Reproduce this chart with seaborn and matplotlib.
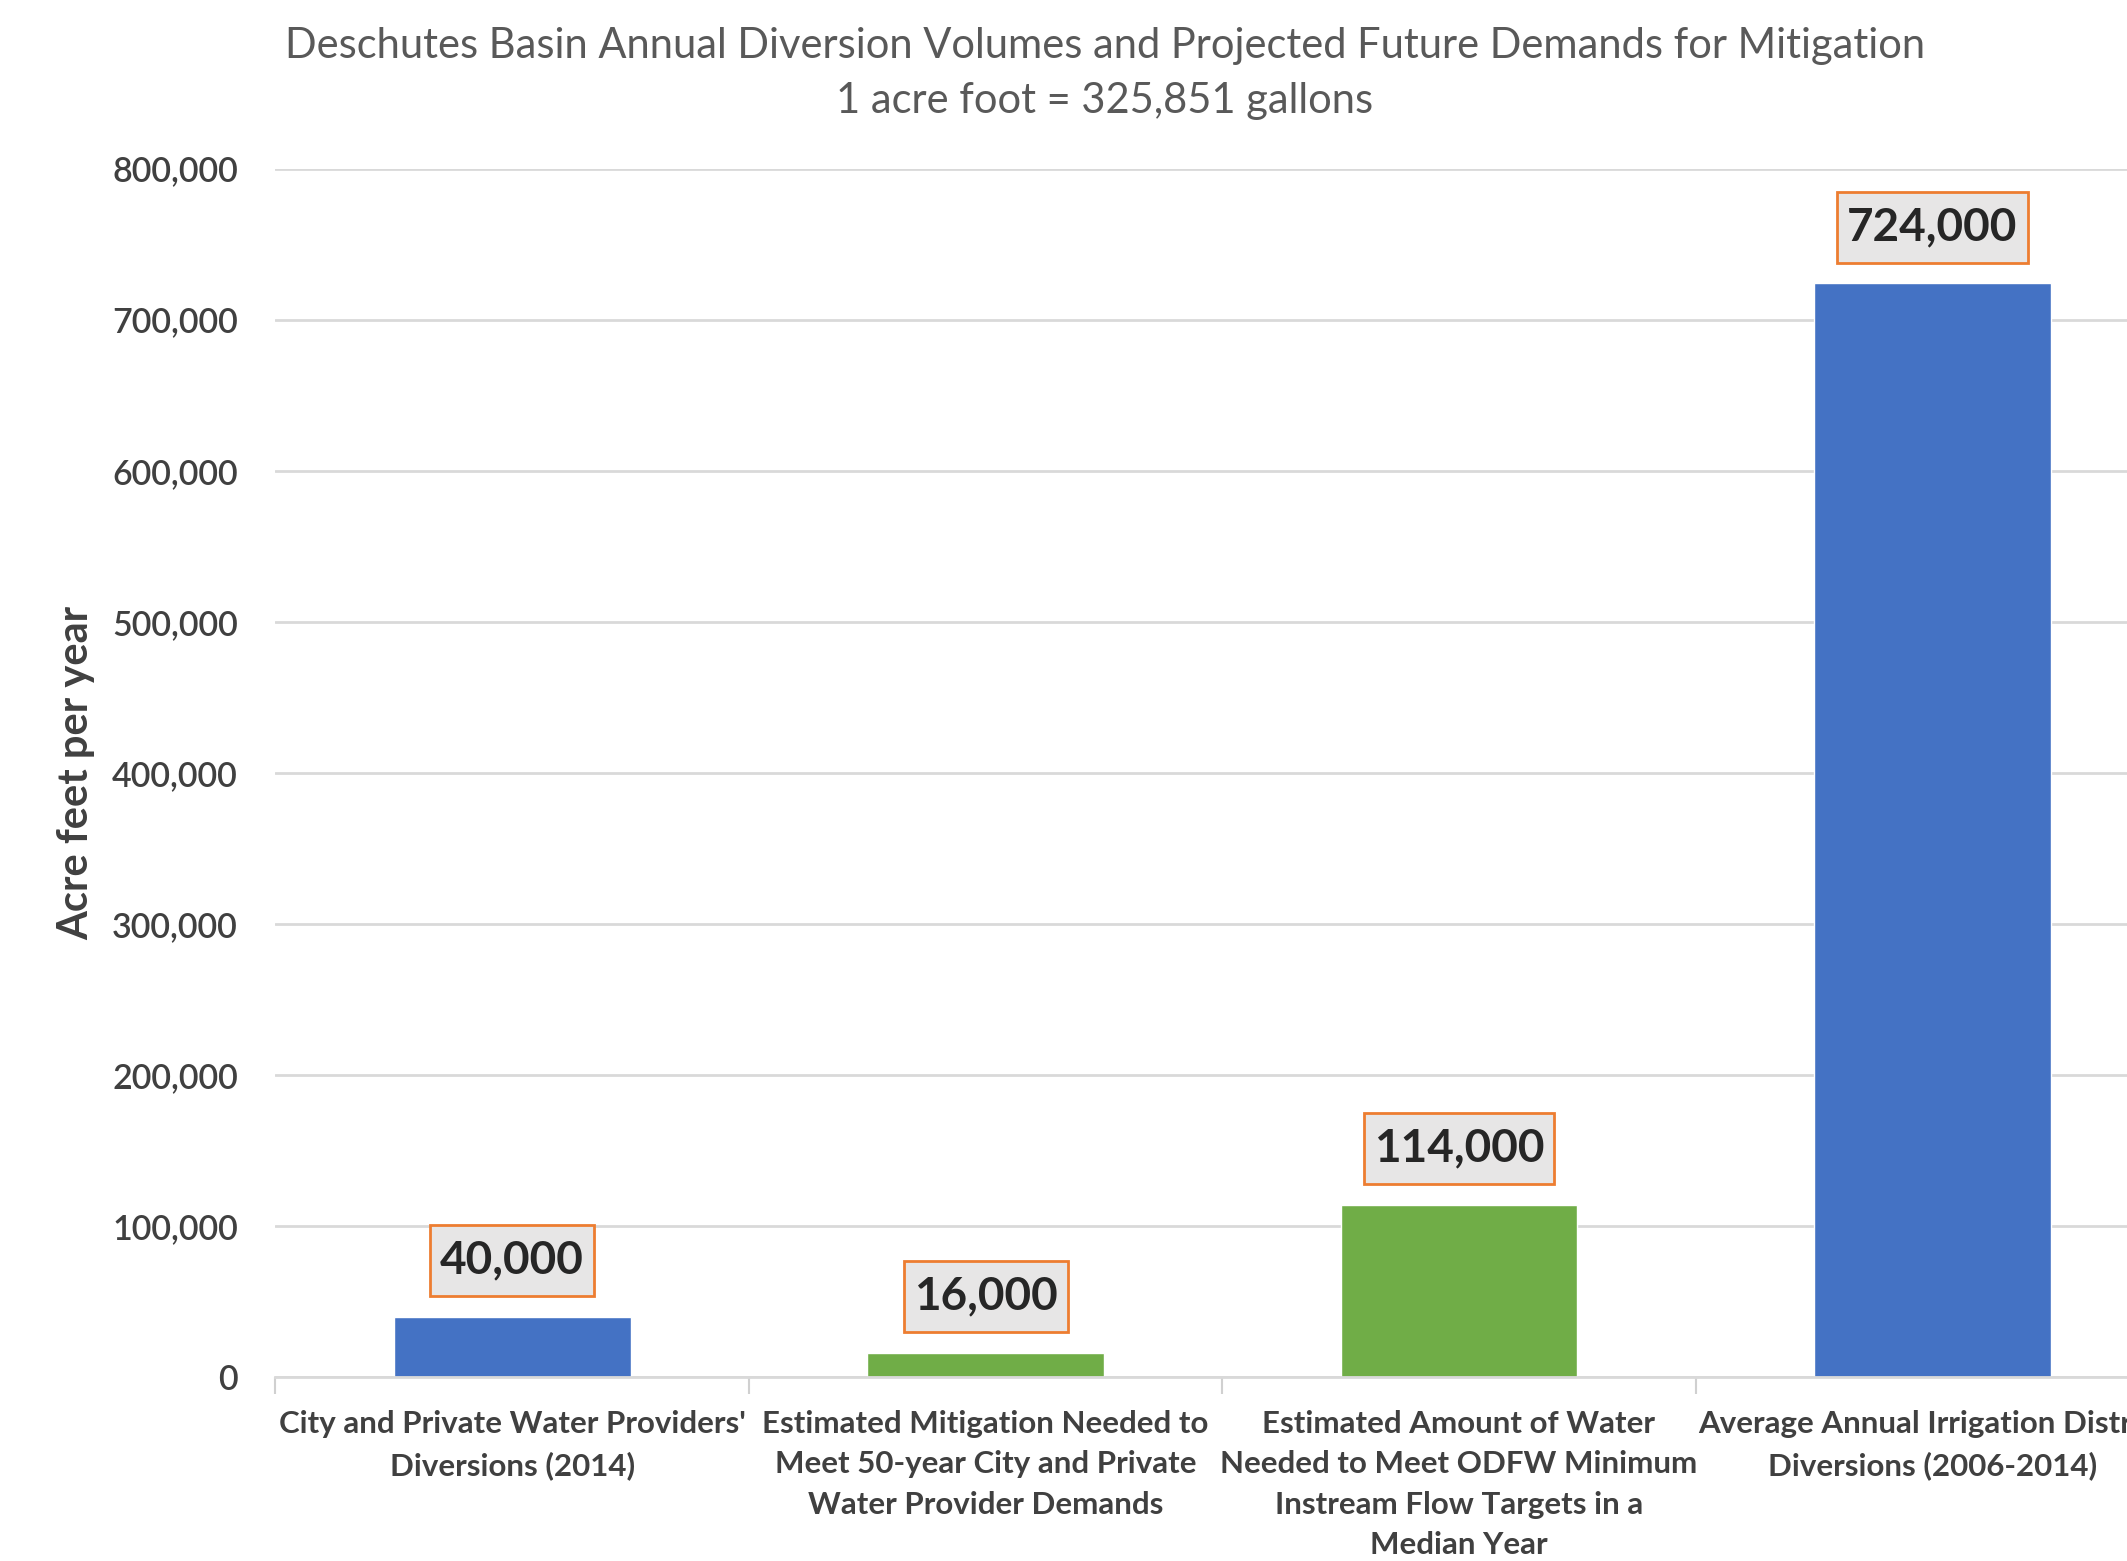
import matplotlib
matplotlib.use("Agg")
import matplotlib.pyplot as plt
from matplotlib.path import Path
import seaborn as sns
import pandas as pd

categories = [
    "City and Private Water Providers'\nDiversions (2014)",
    "Estimated Mitigation Needed to\nMeet 50-year City and Private\nWater Provider Demands",
    "Estimated Amount of Water\nNeeded to Meet ODFW Minimum\nInstream Flow Targets in a\nMedian Year",
    "Average Annual Irrigation District\nDiversions (2006-2014)",
]
values = [40000, 16000, 114000, 724000]
bar_colors = ["#4472C4", "#70AD47", "#70AD47", "#4472C4"]
yticks = [0, 100000, 200000, 300000, 400000, 500000, 600000, 700000, 800000]
title = "Deschutes Basin Annual Diversion Volumes and Projected Future Demands for Mitigation\n1 acre foot = 325,851 gallons"
ylabel = "Acre feet per year"

sns.set_theme(style="white")
plt.rcParams["font.family"] = ["Lato", "DejaVu Sans"]

df = pd.DataFrame({"cat": categories, "val": values})

fig = plt.figure(figsize=(21.27, 15.61), dpi=100)
fig.patch.set_facecolor("white")
ax = fig.add_axes([0.1295, 0.1179, 1.0198 - 0.1295, 0.892 - 0.1179])

sns.barplot(data=df, x="cat", y="val", hue="cat", palette=bar_colors,
            width=0.5, legend=False, ax=ax, saturation=1)

ax.set_ylim(0, 800000)
ax.set_xlim(-0.5, 3.5)
ax.set_yticks(yticks)
ax.set_yticklabels([f"{v:,}" for v in yticks], fontsize=24.5, color="#404040",
                   fontweight="semibold")
ax.yaxis.grid(True, color="#D9D9D9", linewidth=2)
ax.set_axisbelow(True)
ax.tick_params(axis="y", length=0, pad=27)

# category labels
ax.set_xticks(range(len(categories)))
ax.set_xticklabels(categories, fontsize=22.5, color="#404040", fontweight="bold",
                   linespacing=1.53, va="top")
ax.tick_params(axis="x", which="major", length=0, pad=24)
# boundary ticks
ax.set_xticks([-0.5, 0.5, 1.5, 2.5, 3.5], minor=True)
ax.tick_params(axis="x", which="minor", bottom=True, length=12, width=1.5,
               color="#D0D0D0")

for s in ["top", "right", "left"]:
    ax.spines[s].set_visible(False)
ax.spines["bottom"].set_color("#D9D9D9")
ax.spines["bottom"].set_linewidth(2)

ax.set_xlabel("")
ax.set_ylabel(ylabel, fontsize=30, color="#404040", fontweight="bold", labelpad=12)


def label_box(x0, y0, width, height, mutation_size):
    px = 0.22 * mutation_size
    py = 0.32 * mutation_size
    verts = [(x0 - px, y0 - py), (x0 + width + px, y0 - py),
             (x0 + width + px, y0 + height + py), (x0 - px, y0 + height + py),
             (x0 - px, y0 - py)]
    codes = [Path.MOVETO, Path.LINETO, Path.LINETO, Path.LINETO, Path.CLOSEPOLY]
    return Path(verts, codes)


for i, v in enumerate(values):
    ax.annotate(f"{v:,}", xy=(i, v), xytext=(0, 56), textcoords="offset pixels",
                ha="center", va="center", fontsize=33, fontweight="bold",
                color="#262626",
                bbox=dict(boxstyle=label_box, facecolor="#E7E6E6",
                          edgecolor="#ED7D31", linewidth=2))

fig.text(0.5195, 0.953, title, ha="center", va="center", fontsize=30,
         color="#595959", linespacing=1.55, multialignment="center")

fig.savefig("out.png", dpi=100)
